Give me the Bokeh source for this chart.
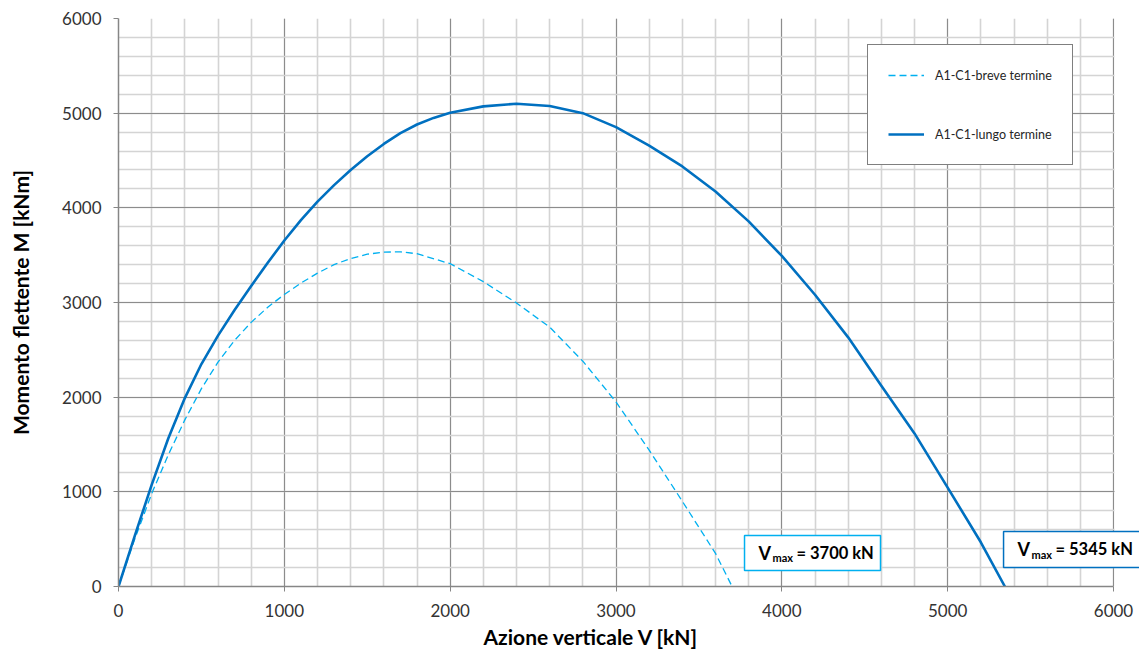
from bokeh.plotting import figure
from bokeh.models import (Range1d, SingleIntervalTicker, Legend, LegendItem, Label,
                          BoxAnnotation, Title)
from bokeh.embed import file_html
from bokeh.resources import INLINE

# ---- data ----
series_names = ["A1-C1-breve termine", "A1-C1-lungo termine"]

v_breve = [0, 100, 200, 300, 400, 500, 600, 700, 800, 900, 1000, 1100, 1200, 1300, 1400,
           1500, 1600, 1700, 1800, 2000, 2200, 2400, 2600, 2800, 3000, 3200, 3400, 3600, 3700]
m_breve = [0, 510, 980, 1390, 1760, 2090, 2370, 2600, 2790, 2950, 3085, 3205, 3310, 3400, 3465,
           3510, 3532, 3535, 3515, 3410, 3220, 2995, 2740, 2380, 1950, 1440, 900, 350, 0]

v_lungo = [0, 100, 200, 300, 400, 500, 600, 700, 800, 900, 1000, 1100, 1200, 1300, 1400,
           1500, 1600, 1700, 1800, 1900, 2000, 2200, 2400, 2600, 2800, 3000, 3200, 3400,
           3600, 3800, 4000, 4200, 4400, 4600, 4800, 5000, 5200, 5345]
m_lungo = [0, 545, 1074, 1564, 1990, 2350, 2650, 2920, 3175, 3420, 3655, 3870, 4065, 4240, 4400,
           4545, 4675, 4790, 4880, 4950, 5005, 5072, 5100, 5075, 5000, 4852, 4657, 4437,
           4172, 3857, 3492, 3082, 2632, 2120, 1617, 1045, 467, 0]

vmax_breve = 3700
vmax_lungo = 5345

axis_min, axis_max, major_step = 0, 6000, 1000
x_title = "Azione verticale V [kN]"
y_title = "Momento flettente M [kNm]"

FONT = "Lato"
C_BREVE = "#00B0F0"
C_LUNGO = "#0070C0"

# frame spans 118..1139 px; the 0..6000 axis occupies 118..1113 px
x_end = axis_max * (1139 - 118) / (1113 - 118)

p = figure(width=1139, height=652, output_backend="svg", toolbar_location=None,
           x_range=Range1d(axis_min, x_end), y_range=Range1d(axis_min, axis_max),
           min_border_left=118, min_border_right=0, min_border_top=18, min_border_bottom=66,
           background_fill_color="white", border_fill_color="white")
p.outline_line_color = None

for ax in (p.xaxis, p.yaxis):
    ax.ticker = SingleIntervalTicker(interval=major_step, num_minor_ticks=5)
    ax.axis_line_color = "#868686"
    ax.axis_line_width = 1.5
    ax.major_tick_line_color = "#868686"
    ax.major_tick_in = 0
    ax.major_tick_out = 5
    ax.minor_tick_line_color = None
    ax.major_label_text_font = FONT
    ax.major_label_text_font_size = "17px"
    ax.major_label_text_color = "#333333"
p.xaxis.bounds = (axis_min, axis_max)

p.xaxis.major_label_standoff = 12
p.yaxis.major_label_standoff = 12

p.yaxis.axis_label = y_title
p.yaxis.axis_label_text_font = FONT
p.yaxis.axis_label_text_font_size = "21px"
p.yaxis.axis_label_text_font_style = "bold"
p.yaxis.axis_label_text_color = "#000000"
p.yaxis.axis_label_standoff = 26

for g in (p.xgrid, p.ygrid):
    g.grid_line_color = "#8C8C8C"
    g.grid_line_width = 1
    g.minor_grid_line_color = "#D4D4D4"
    g.minor_grid_line_width = 1.6

# hide horizontal grid lines to the right of the 6000 line
p.add_layout(BoxAnnotation(left=axis_max + 6, right=x_end + 50, bottom=axis_min - 50,
                           top=axis_max + 50, fill_color="white", fill_alpha=1,
                           line_color=None, level="underlay"))

r_breve = p.line(v_breve, m_breve, line_color=C_BREVE, line_width=1.3, line_dash="7 4",
                 line_join="round")
r_lungo = p.line(v_lungo, m_lungo, line_color=C_LUNGO, line_width=2.6, line_join="round")

legend = Legend(items=[LegendItem(label=series_names[0], renderers=[r_breve]),
                       LegendItem(label=series_names[1], renderers=[r_lungo])],
                location=(749, 421), padding=20, spacing=39, margin=0,
                label_height=20, glyph_height=20, glyph_width=36, label_standoff=11,
                label_text_font=FONT, label_text_font_size="12.5px", label_text_color="#262626",
                border_line_color="black", border_line_width=1,
                background_fill_color="white", background_fill_alpha=1)
p.add_layout(legend)

# x axis title below the axis
p.add_layout(Title(text=x_title, text_font=FONT, text_font_size="21px",
                   text_font_style="bold", text_color="#000000", align="left",
                   offset=365, standoff=4), "below")

# V max boxes
def vmax_box(left, right, bottom, top, color, xv, xs, xr, yc, ys, value):
    p.add_layout(BoxAnnotation(left=left, right=right, bottom=bottom, top=top,
                               fill_color="white", fill_alpha=1, line_color=color,
                               line_width=1.5, line_alpha=1))
    common = dict(text_font=FONT, text_font_style="bold", text_color="#000000",
                  text_baseline="middle")
    p.add_layout(Label(x=xv, y=yc, text="V", text_font_size="18px", **common))
    p.add_layout(Label(x=xs, y=ys, text="max", text_font_size="11px", **common))
    p.add_layout(Label(x=xr, y=yc, text=f"= {value}  kN", text_font_size="16.5px", **common))

vmax_box(3775, 4595, 169, 539, C_BREVE, 3859, 3944, 4088, 354, 306, vmax_breve)
vmax_box(5337, 6300, 201, 581, C_LUNGO, 5421, 5506, 5650, 391, 343, vmax_lungo)

open("out.html", "w").write(file_html(p, INLINE))
